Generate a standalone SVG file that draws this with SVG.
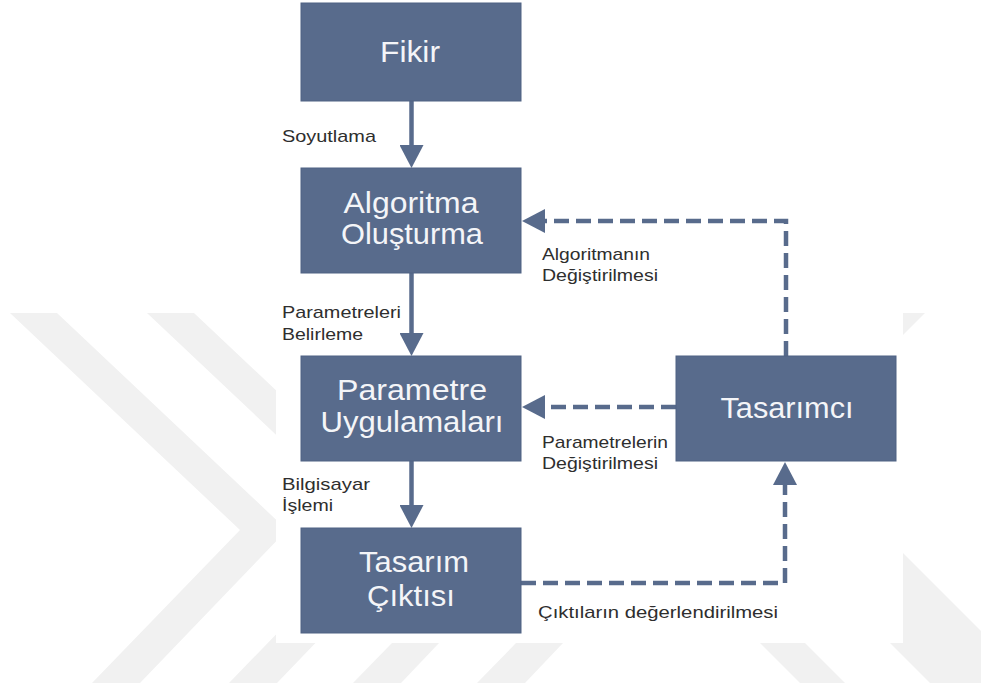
<svg xmlns="http://www.w3.org/2000/svg" width="981" height="688" viewBox="0 0 981 688">
  <style>
    .box { fill: #586b8c; stroke: #4f6283; stroke-width: 1; }
    .btxt { font-family: "Liberation Sans", Arial, sans-serif; font-size: 29px; fill: #f4f5f8; text-anchor: middle; }
    .lbl { font-family: "Liberation Sans", Arial, sans-serif; font-size: 17px; fill: #2e2e2e; }
    .solid { fill: none; stroke: #586b8c; stroke-width: 4.5; }
    .dash { fill: none; stroke: #586b8c; stroke-width: 4.5; stroke-dasharray: 15 7; }
    .wm { fill: #f1f1f1; }
  </style>
  <defs>
    <marker id="head" markerUnits="userSpaceOnUse" markerWidth="24" markerHeight="24" refX="0" refY="12" orient="auto">
      <path d="M0,0 L23,12 L0,24 z" fill="#586b8c"/>
    </marker>
  </defs>

  <rect width="981" height="688" fill="#ffffff"/>

  <!-- background chevrons -->
  <g id="watermark">
    <polygon class="wm" points="10,313 57,313 287,530 140,683 92,683 240,530"/>
    <polygon class="wm" points="147,313 194,313 424,530 277,683 229,683 377,530"/>
    <polygon class="wm" points="392,643 439,643 401,683 353,683"/>
    <polygon class="wm" points="516,643 563,643 525,683 477,683"/>
    <polygon class="wm" points="760,643 805,643 845,683 800,683"/>
    <polygon class="wm" points="760,513 863,513 1033,683 930,683"/>
    <polygon class="wm" points="860,313 925,313 700,538 635,538"/>
  </g>

  <!-- diagram sheet -->
  <rect x="276" y="0" width="627" height="643" fill="#ffffff"/>

  <g id="connectors">
    <path class="solid" d="M411.5,101 V145" marker-end="url(#head)"/>
    <path class="solid" d="M411.5,273 V333" marker-end="url(#head)"/>
    <path class="solid" d="M411.5,461 V505" marker-end="url(#head)"/>
    <path class="dash" d="M786,356 V221 H545" marker-end="url(#head)"/>
    <path class="dash" d="M676,407 H545" marker-end="url(#head)"/>
    <path class="dash" d="M521,583 H785 V485" marker-end="url(#head)"/>
  </g>

  <g id="labels">
    <text class="lbl" x="282" y="142" textLength="94" lengthAdjust="spacingAndGlyphs">Soyutlama</text>
    <text class="lbl" x="542" y="260" textLength="108" lengthAdjust="spacingAndGlyphs">Algoritmanın</text>
    <text class="lbl" x="542" y="281" textLength="116" lengthAdjust="spacingAndGlyphs">Değiştirilmesi</text>
    <text class="lbl" x="282" y="318" textLength="119" lengthAdjust="spacingAndGlyphs">Parametreleri</text>
    <text class="lbl" x="282" y="340" textLength="81" lengthAdjust="spacingAndGlyphs">Belirleme</text>
    <text class="lbl" x="542" y="448" textLength="126" lengthAdjust="spacingAndGlyphs">Parametrelerin</text>
    <text class="lbl" x="542" y="469" textLength="116" lengthAdjust="spacingAndGlyphs">Değiştirilmesi</text>
    <text class="lbl" x="282" y="490" textLength="88" lengthAdjust="spacingAndGlyphs">Bilgisayar</text>
    <text class="lbl" x="282" y="511" textLength="51" lengthAdjust="spacingAndGlyphs">İşlemi</text>
    <text class="lbl" x="538" y="618" textLength="240" lengthAdjust="spacingAndGlyphs">Çıktıların değerlendirilmesi</text>
  </g>

  <g id="fikir">
    <rect class="box" x="301" y="3" width="220" height="98"/>
    <text class="btxt" x="410" y="62" textLength="60" lengthAdjust="spacingAndGlyphs">Fikir</text>
  </g>

  <g id="algoritma">
    <rect class="box" x="301" y="168" width="220" height="105"/>
    <text class="btxt" x="411" y="213" textLength="135" lengthAdjust="spacingAndGlyphs">Algoritma</text>
    <text class="btxt" x="412" y="244" textLength="142" lengthAdjust="spacingAndGlyphs">Oluşturma</text>
  </g>

  <g id="parametre">
    <rect class="box" x="301" y="356" width="220" height="105"/>
    <text class="btxt" x="412" y="400" textLength="150" lengthAdjust="spacingAndGlyphs">Parametre</text>
    <text class="btxt" x="412" y="432" textLength="183" lengthAdjust="spacingAndGlyphs">Uygulamaları</text>
  </g>

  <g id="cikti">
    <rect class="box" x="301" y="528" width="220" height="105"/>
    <text class="btxt" x="414" y="572" textLength="110" lengthAdjust="spacingAndGlyphs">Tasarım</text>
    <text class="btxt" x="411" y="606" textLength="88" lengthAdjust="spacingAndGlyphs">Çıktısı</text>
  </g>

  <g id="tasarimci">
    <rect class="box" x="676" y="356" width="220" height="105"/>
    <text class="btxt" x="787" y="418" textLength="133" lengthAdjust="spacingAndGlyphs">Tasarımcı</text>
  </g>
</svg>
